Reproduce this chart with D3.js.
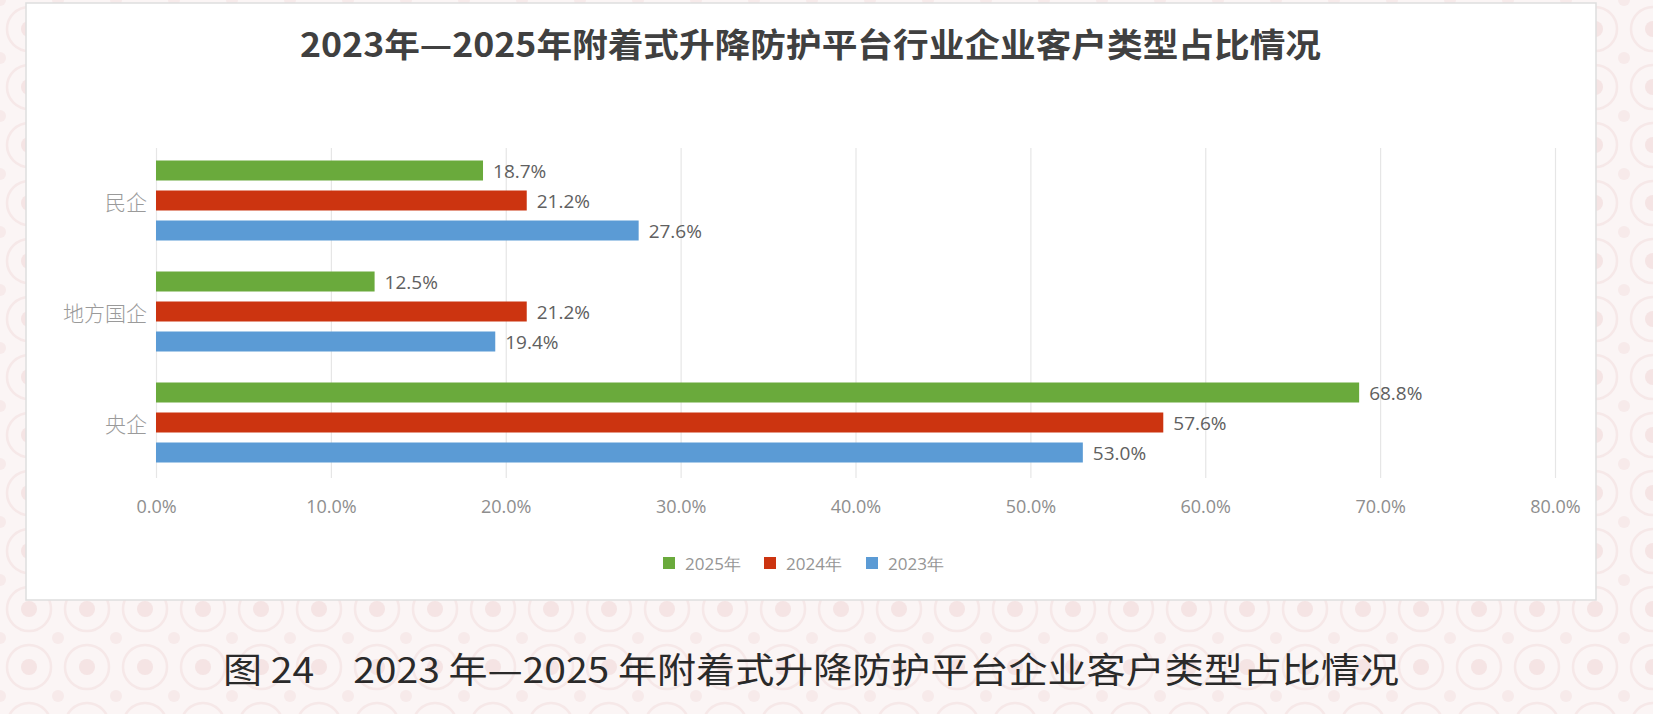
<!DOCTYPE html>
<html>
<head>
<meta charset="utf-8">
<script src="https://cdn.jsdelivr.net/npm/d3@7"></script>
<style>
  html, body { margin: 0; padding: 0; background: #f8efef; }
  svg { display: block; }
</style>
</head>
<body>
<svg id="chart" width="1653" height="714"></svg>
<script>
const categories = ["民企", "地方国企", "央企"];
const seriesNames = ["2025年", "2024年", "2023年"];
const values2025 = [18.7, 12.5, 68.8];
const values2024 = [21.2, 21.2, 57.6];
const values2023 = [27.6, 19.4, 53.0];
const xTicks = [0, 10, 20, 30, 40, 50, 60, 70, 80];
const titleText = "2023年—2025年附着式升降防护平台行业企业客户类型占比情况";
const captionText = "图 24　2023 年—2025 年附着式升降防护平台企业客户类型占比情况";

const seriesValues = [values2025, values2024, values2023];
const colors = ["#6aaa3c", "#cc3410", "#5b9bd5"];

const W = 1653, H = 714;
const svg = d3.select("#chart");

// background pattern (subtle)
const defs = svg.append("defs");
const pat = defs.append("pattern").attr("id", "bgpat").attr("patternUnits", "userSpaceOnUse")
  .attr("width", 58).attr("height", 58);
pat.append("rect").attr("width", 58).attr("height", 58).attr("fill", "#fbf5f5");
pat.append("circle").attr("cx", 29).attr("cy", 29).attr("r", 22).attr("fill", "none").attr("stroke", "#f6e8e8").attr("stroke-width", 2.5);
pat.append("circle").attr("cx", 29).attr("cy", 29).attr("r", 8).attr("fill", "#f5e4e4");
pat.append("circle").attr("cx", 0).attr("cy", 0).attr("r", 6).attr("fill", "#f7eaea");
pat.append("circle").attr("cx", 58).attr("cy", 0).attr("r", 6).attr("fill", "#f7eaea");
pat.append("circle").attr("cx", 0).attr("cy", 58).attr("r", 6).attr("fill", "#f7eaea");
pat.append("circle").attr("cx", 58).attr("cy", 58).attr("r", 6).attr("fill", "#f7eaea");
svg.append("rect").attr("width", W).attr("height", H).attr("fill", "url(#bgpat)");

// white panel
svg.append("rect").attr("x", 26).attr("y", 3).attr("width", 1570).attr("height", 597)
  .attr("fill", "#ffffff").attr("stroke", "#dedede").attr("stroke-width", 1.5);

// title
svg.append("text").attr("x", 300).attr("y", 57)
  .attr("textLength", 1021).attr("lengthAdjust", "spacingAndGlyphs")
  .attr("font-family", "'Noto Sans CJK SC', sans-serif").attr("font-weight", "bold")
  .attr("font-size", 33).attr("fill", "#404040").text(titleText);

// scales
const plotTop = 145, plotBottom = 478, gridTop = 148;
const x = d3.scaleLinear().domain([0, 80]).range([156, 1555]);
const y = d3.scaleBand().domain(categories).range([plotTop, plotBottom]).padding(0);
const ySub = d3.scaleBand().domain(seriesNames).range([10.5, y.bandwidth() - 10.5]).padding(0);
const barH = 20;

// grid + x-axis
const axis = d3.axisBottom(x).tickValues(xTicks)
  .tickFormat(d => d3.format(".1f")(d) + "%")
  .tickSize(-(plotBottom - gridTop)).tickPadding(22);
const gx = svg.append("g").attr("transform", `translate(0,${plotBottom})`).call(axis);
gx.select(".domain").remove();
gx.selectAll(".tick line").attr("stroke", "#e6e6e6").attr("stroke-width", 1.2);
gx.selectAll(".tick text").attr("font-family", "'Open Sans', sans-serif").attr("font-size", 18)
  .attr("fill", "#8e8e8e");

// category labels
svg.append("g").selectAll("text").data(categories).join("text")
  .attr("x", 147).attr("y", d => y(d) + y.bandwidth() / 2)
  .attr("text-anchor", "end").attr("dominant-baseline", "central")
  .attr("font-family", "'Noto Sans CJK SC', sans-serif").attr("font-size", 21).attr("font-weight", 300)
  .attr("fill", "#9a9a9a").text(d => d);

// bars
const flat = [];
categories.forEach((c, i) => seriesNames.forEach((s, j) => flat.push({c, s, j, v: seriesValues[j][i]})));
svg.append("g").selectAll("rect").data(flat).join("rect")
  .attr("x", x(0)).attr("y", d => y(d.c) + ySub(d.s) + (ySub.bandwidth() - barH) / 2)
  .attr("width", d => x(d.v) - x(0)).attr("height", barH)
  .attr("fill", d => colors[d.j]);

// value labels
svg.append("g").selectAll("text").data(flat).join("text")
  .attr("x", d => x(d.v) + 10).attr("y", d => y(d.c) + ySub(d.s) + ySub.bandwidth() / 2)
  .attr("dominant-baseline", "central")
  .attr("font-family", "'Open Sans', sans-serif").attr("font-size", 19)
  .attr("fill", "#606060").text(d => d3.format(".1f")(d.v) + "%");

// legend
const legendX = [663, 764, 866];
const lg = svg.append("g").selectAll("g").data(seriesNames).join("g")
  .attr("transform", (d, i) => `translate(${legendX[i]},563)`);
lg.append("rect").attr("x", 0).attr("y", -6).attr("width", 12).attr("height", 12)
  .attr("fill", (d, i) => colors[i]);
lg.append("text").attr("x", 22).attr("y", 0).attr("dominant-baseline", "central")
  .attr("font-family", "'Open Sans', sans-serif").attr("font-size", 17)
  .attr("fill", "#959595").text(d => d);

// caption
svg.append("text").attr("x", 223).attr("y", 683)
  .attr("textLength", 1176).attr("lengthAdjust", "spacingAndGlyphs")
  .attr("font-family", "'Noto Sans CJK SC', sans-serif").attr("font-weight", "400")
  .attr("font-size", 35).attr("fill", "#2a2a2a").text(captionText);
</script>
</body>
</html>
